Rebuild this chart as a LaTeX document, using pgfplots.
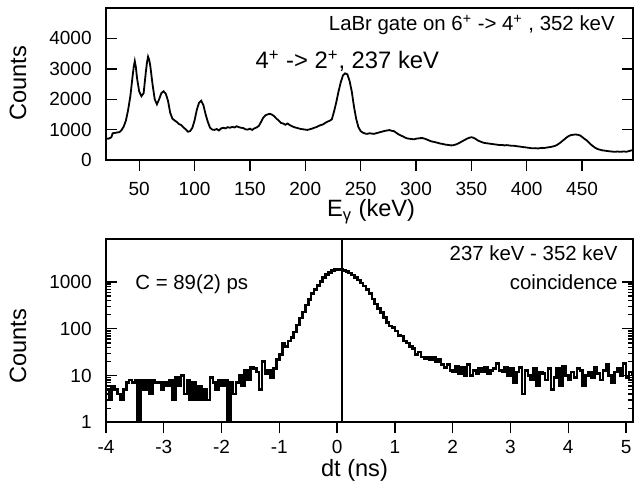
\documentclass[border=0pt]{standalone}
\usepackage{fontspec}
\setmainfont{Liberation Sans}
\usepackage{pgfplots}
\usepackage{pgfplotstable}
\pgfplotsset{compat=1.18}

\pgfplotstableread{
x y
20 720
21 705
22 700
23 715
24 730
25 760
26 880
28 890
30 905
32 915
34 980
36 1100
38 1300
40 1650
42 2100
44 2750
45 3050
46 3250
47 3050
48 2700
50 2250
52 2100
54 2200
56 2900
57 3200
58 3400
59 3300
60 3100
62 2500
64 2000
66 1830
68 2000
70 2200
72 2260
74 2180
76 1950
78 1550
80 1360
82 1300
84 1250
86 1180
88 1150
90 1070
92 1010
94 930
96 950
98 1060
100 1300
102 1650
104 1880
106 1950
108 1800
110 1500
112 1250
114 1060
116 1000
118 990
120 1020
122 970
124 1040
126 1060
128 1040
130 1080
132 1060
134 1090
136 1070
138 1110
140 1080
142 1060
144 1050
146 1010
148 1000
150 1030
152 990
154 1040
156 1070
158 1120
160 1250
162 1390
164 1470
166 1500
168 1520
170 1490
172 1440
174 1360
176 1300
178 1220
180 1200
182 1160
184 1200
186 1150
188 1110
190 1080
192 1060
194 1040
196 1020
198 1010
200 1000
202 990
204 1010
206 1030
208 1060
210 1080
212 1120
214 1150
216 1170
218 1220
220 1260
222 1290
224 1340
226 1600
228 1900
230 2250
232 2550
234 2780
236 2850
238 2820
240 2600
242 2250
244 1750
246 1350
248 1080
250 950
252 900
254 870
256 860
258 880
260 870
262 860
264 880
266 900
268 920
270 940
272 960
274 970
276 985
278 960
280 950
282 900
284 850
286 810
288 780
290 740
292 710
294 700
296 690
298 680
300 700
302 710
304 720
306 720
308 700
310 670
312 640
314 610
316 600
318 580
320 560
322 540
324 530
326 510
328 500
330 490
332 480
334 490
336 510
338 540
340 580
342 620
344 660
346 700
348 730
350 750
352 730
354 690
356 640
358 610
360 580
362 560
364 550
366 540
368 530
370 520
372 510
374 500
376 490
378 495
380 480
382 490
384 480
386 470
388 470
390 460
392 450
394 440
396 430
398 420
400 410
402 400
404 390
406 385
408 390
410 380
412 390
414 400
416 395
418 410
420 420
422 430
424 450
426 470
428 510
430 560
432 620
434 680
436 740
438 790
440 820
442 830
444 840
446 830
448 810
450 760
452 700
454 650
456 580
458 510
460 450
462 400
464 360
466 340
468 320
470 310
472 300
474 290
476 280
478 275
480 270
482 280
484 270
486 275
488 280
490 270
492 290
494 310
496 330
}\spectrum

\pgfplotstableread{
x y
-4.00 5
-3.95 3
-3.90 6
-3.85 5
-3.80 4
-3.75 3
-3.70 5
-3.65 7
-3.60 8
-3.55 7
-3.50 8
-3.45 1
-3.40 8
-3.35 5
-3.30 8
-3.25 4
-3.20 8
-3.15 7
-3.10 7
-3.05 5
-3.00 7
-2.95 6
-2.90 8
-2.85 3
-2.80 9
-2.75 6
-2.70 10
-2.65 4
-2.60 8
-2.55 3
-2.50 7
-2.45 3
-2.40 6
-2.35 3
-2.30 5
-2.25 3
-2.20 9
-2.15 7
-2.10 5
-2.05 8
-2.00 6
-1.95 8
-1.90 1
-1.85 7
-1.80 4
-1.75 7
-1.70 10
-1.65 6
-1.60 13
-1.55 8
-1.50 15
-1.45 14
-1.40 12
-1.35 5
-1.30 20
-1.25 11
-1.20 13
-1.15 9
-1.10 14
-1.05 22
-1.00 28
-0.95 50
-0.90 42
-0.85 55
-0.80 65
-0.75 85
-0.70 120
-0.65 170
-0.60 230
-0.55 320
-0.50 420
-0.45 560
-0.40 700
-0.35 850
-0.30 1030
-0.25 1250
-0.20 1430
-0.15 1600
-0.10 1750
-0.05 1830
0.00 1870
0.05 1850
0.10 1780
0.15 1690
0.20 1560
0.25 1400
0.30 1250
0.35 1100
0.40 960
0.45 820
0.50 690
0.55 560
0.60 430
0.65 340
0.70 270
0.75 225
0.80 175
0.85 135
0.90 115
0.95 105
1.00 90
1.05 72
1.10 70
1.15 55
1.20 50
1.25 42
1.30 38
1.35 28
1.40 32
1.45 25
1.50 23
1.55 25
1.60 22
1.65 24
1.70 20
1.75 22
1.80 17
1.85 15
1.90 17
1.95 13
2.00 12
2.05 16
2.10 11
2.15 15
2.20 10
2.25 17
2.30 10
2.35 13
2.40 11
2.45 14
2.50 12
2.55 15
2.60 11
2.65 13
2.70 14
2.75 18
2.80 13
2.85 12
2.90 15
2.95 10
3.00 14
3.05 7
3.10 12
3.15 15
3.20 4
3.25 13
3.30 10
3.35 8
3.40 14
3.45 6
3.50 12
3.55 11
3.60 8
3.65 14
3.70 5
3.75 9
3.80 14
3.85 6
3.90 16
3.95 10
4.00 8
4.05 12
4.10 9
4.15 14
4.20 13
4.25 6
4.30 10
4.35 12
4.40 9
4.45 15
4.50 11
4.55 8
4.60 13
4.65 17
4.70 10
4.75 7
4.80 12
4.85 14
4.90 10
4.95 18
5.00 9
5.05 12
5.10 11
5.15 10
}\timespec

\begin{document}
\begin{tikzpicture}
\useasboundingbox (0,0) rectangle (317pt,242pt);
\pgfplotsset{
  common/.style={
    scale only axis, width=263.5pt, anchor=south west,
    axis line style={line width=0.9pt},
    tick align=inside,
    major tick length=5.5pt, minor tick length=2.5pt,
    tick style={black, line width=0.7pt},
    every x tick/.append style={yshift=-5.5pt},
    xtick pos=left, ytick pos=both,
    /pgf/number format/assume math mode=true,
    /pgf/number format/set thousands separator={},
    scaled ticks=false,
    tick label style={font=\fontsize{9.5}{11}\selectfont},
    yticklabel style={anchor=east, inner sep=0pt, xshift=-7pt},
  }
}
% top panel
\begin{axis}[common,
  at={(53pt,162pt)}, height=76pt,
  xmin=20, xmax=496, ymin=0, ymax=5000,
  xtick={50,100,...,450},
  ytick={0,1000,2000,3000,4000},
  xticklabel style={anchor=base, inner sep=0pt, yshift=-17.5pt},
  every axis x label/.style={at={(axis description cs:0.503,-0.375)}, anchor=base, font=\fontsize{11.8}{14}\selectfont},
  every axis y label/.style={at={(axis description cs:-0.167,0.503)}, rotate=90, anchor=center, font=\fontsize{11.8}{14}\selectfont},
  xlabel={E\textsubscript{γ} (keV)}, ylabel={Counts},
]
\addplot[black, line width=0.9pt] table[x=x,y=y] {\spectrum};
\node[anchor=base east, font=\fontsize{10.2}{12}\selectfont, inner sep=0pt] at (rel axis cs:0.966,0.851) {LaBr gate on 6\textsuperscript{+} -> 4\textsuperscript{+} , 352 keV};
\node[anchor=base west, font=\fontsize{11.9}{14}\selectfont, inner sep=0pt] at (rel axis cs:0.283,0.599) {4\textsuperscript{+} -> 2\textsuperscript{+}, 237 keV};
\end{axis}
% bottom panel
\begin{axis}[common,
  at={(53pt,30.85pt)}, height=91.65pt,
  ymode=log,
  xmin=-4, xmax=5.12, ymin=1, ymax=8300,
  xtick={-4,-3,...,5},
  ytick={1,10,100,1000}, yticklabels={1,10,100,1000},
  xticklabel style={anchor=base, inner sep=0pt, yshift=-15.35pt},
  every axis x label/.style={at={(axis description cs:0.4715,-0.297)}, anchor=base, font=\fontsize{11.8}{14}\selectfont},
  every axis y label/.style={at={(axis description cs:-0.167,0.415)}, rotate=90, anchor=center, font=\fontsize{11.8}{14}\selectfont},
  xlabel={dt (ns)}, ylabel={Counts},
]
\addplot[const plot, black, line width=1.3pt] table[x=x,y=y] {\timespec};
\addplot[black, line width=1.1pt] coordinates {(0.08,1) (0.08,8300)};
\node[anchor=base west, font=\fontsize{10.2}{12}\selectfont, inner sep=0pt] at (rel axis cs:0.055,0.7256) {C = 89(2) ps};
\node[anchor=base east, font=\fontsize{10.2}{12}\selectfont, inner sep=0pt] at (rel axis cs:0.9715,0.8816) {237 keV - 352 keV};
\node[anchor=base east, font=\fontsize{10.2}{12}\selectfont, inner sep=0pt] at (rel axis cs:0.9715,0.7256) {coincidence};
\end{axis}
\end{tikzpicture}
\end{document}
